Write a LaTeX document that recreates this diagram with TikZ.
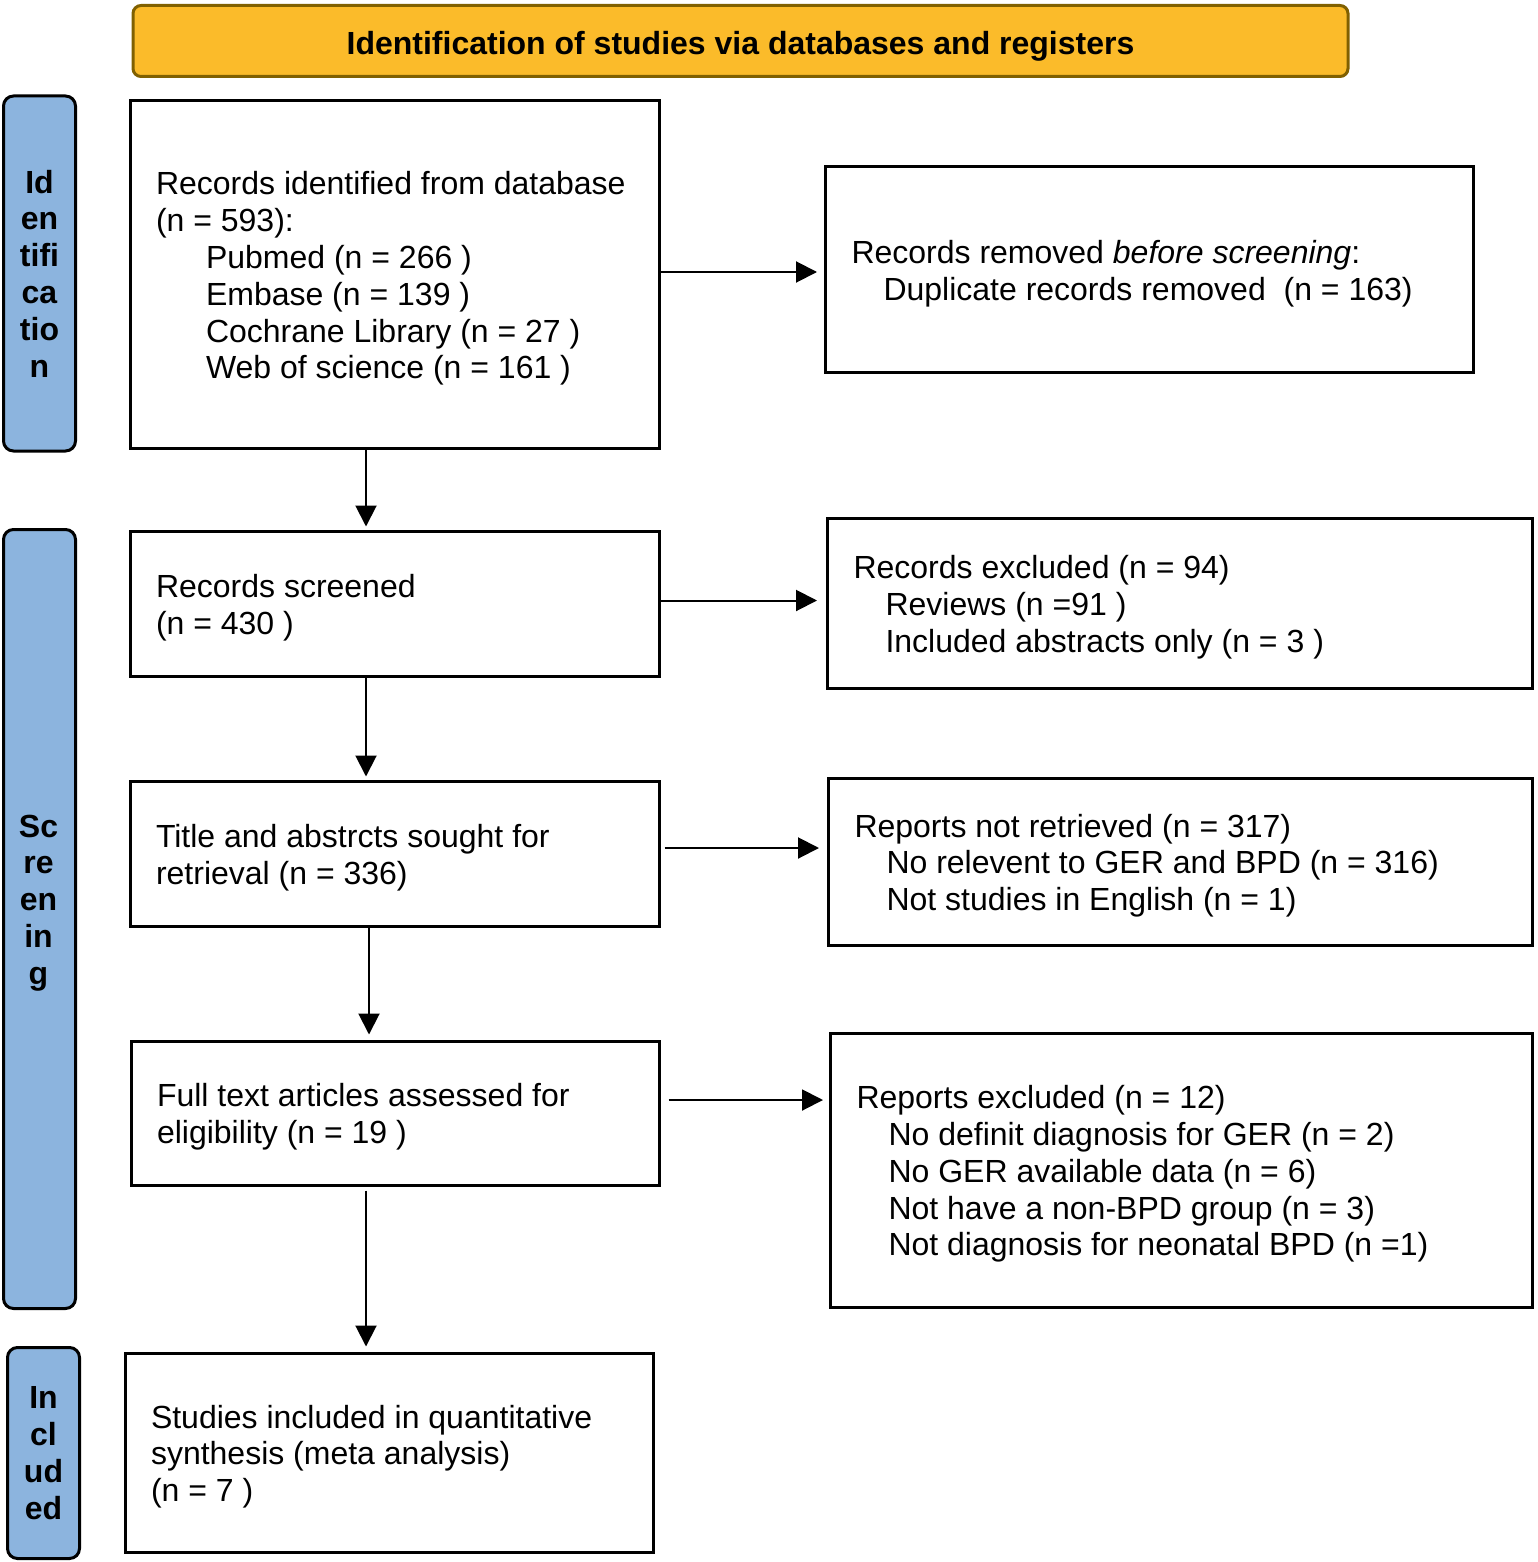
\documentclass[tikz,border=0pt]{standalone}
\usepackage{fontspec}
\setmainfont{Liberation Sans}
\usetikzlibrary{arrows.meta,calc}
\definecolor{titleyellow}{RGB}{251,187,42}
\definecolor{titlebrown}{RGB}{128,96,0}
\definecolor{sideblue}{RGB}{140,180,222}
\newcommand\mytopstrut{\rule{0pt}{15.7pt}}
\begin{document}
\begin{tikzpicture}[x=0.5pt,y=-0.5pt,
  every node/.style={font=\fontsize{16pt}{18.4pt}\selectfont},
  box/.style={draw=black,line width=1.5pt,fill=white,inner xsep=13pt,inner ysep=0pt,align=flush left,anchor=center},
  sidebox/.style={draw=black,line width=1.5pt,fill=sideblue,rounded corners=5pt,minimum width=36pt,inner sep=0pt},
  sidelabel/.style={font=\fontsize{16pt}{18.4pt}\selectfont\bfseries,align=center,inner sep=0pt},
  arr/.style={line width=1pt,-{Triangle[length=10.5pt,width=10.5pt]}}]
\useasboundingbox (0,0) rectangle (1537,1562);

% title
\node[draw=titlebrown,fill=titleyellow,line width=1.5pt,rounded corners=4pt,
      minimum width=607.5pt,minimum height=35.5pt,inner sep=0pt,text height=13.5pt,text depth=0pt,
      font=\fontsize{16pt}{18.4pt}\selectfont\bfseries] (T) at (740.5,41)
      {Identification of studies via databases and registers};

% side bars
\node[sidebox,minimum height=177.5pt,sidelabel] (S1) at (39.5,273.5) {Id\\en\\tifi\\ca\\tio\\n};
\node[sidebox,minimum height=389.5pt] (S2) at (39.5,919) {};
\node[sidelabel] (S2t) at (38.5,903) {Sc\\re\\en\\in\\g};
\node[sidebox,minimum height=105.5pt,sidelabel] (S3) at (43.5,1453) {In\\cl\\ud\\ed};

% main boxes
\node[box,text width=238.5pt,minimum height=173.5pt] (A) at (394.5,274.5)
  {\mytopstrut\mbox{Records identified from database}\\(n = 593):\\
   \hspace*{25pt}Pubmed (n = 266 )\\
   \hspace*{25pt}Embase (n = 139 )\\
   \hspace*{25pt}Cochrane Library (n = 27 )\\
   \hspace*{25pt}Web of science (n = 161 )};
\node[box,text width=298pt,minimum height=102.5pt] (B) at (1149.5,269.5)
  {\mytopstrut Records removed \textit{before screening}:\\
   \hspace*{16pt}\mbox{Duplicate records removed\ \ (n = 163)}};
\node[box,text width=238.5pt,minimum height=72.5pt] (C) at (394.5,603.5)
  {\mytopstrut Records screened\\(n = 430 )};
\node[box,text width=326.5pt,minimum height=85pt] (D) at (1180,603)
  {\mytopstrut Records excluded (n = 94)\\
   \hspace*{16pt}Reviews (n =91 )\\
   \hspace*{16pt}Included abstracts only (n = 3 )};
\node[box,text width=238.5pt,minimum height=72.5pt] (E) at (394.5,853.5)
  {\mytopstrut Title and abstrcts sought for\\retrieval (n = 336)};
\node[box,text width=326pt,minimum height=83.5pt] (F) at (1180.5,861.5)
  {\mytopstrut Reports not retrieved (n = 317)\\
   \hspace*{16pt}No relevent to GER and BPD (n = 316)\\
   \hspace*{16pt}Not studies in English (n = 1)};
\node[box,text width=238pt,minimum height=72pt] (G) at (395,1113)
  {\mytopstrut Full text articles assessed for\\eligibility (n = 19 )};
\node[box,text width=325pt,minimum height=137pt] (H) at (1181.5,1170)
  {\mytopstrut Reports excluded (n = 12)\\
   \hspace*{16pt}No definit diagnosis for GER (n = 2)\\
   \hspace*{16pt}No GER available data (n = 6)\\
   \hspace*{16pt}Not have a non-BPD group (n = 3)\\
   \hspace*{16pt}Not diagnosis for neonatal BPD (n =1)};
\node[box,text width=238pt,minimum height=99.5pt] (I) at (389,1452.5)
  {\mytopstrut Studies included in quantitative\\synthesis (meta analysis)\\(n = 7 )};

% connectors
\coordinate (ax) at (366,0);
\coordinate (bx) at (369,0);
\draw[arr,shorten >=3.5pt] ([yshift=1.25pt]A.east) -- ([yshift=1.25pt]A.east -| B.west);
\draw[arr,shorten >=4.5pt] ([yshift=1.5pt]C.east) -- ([yshift=1.5pt]C.east -| D.west);
\draw[arr,shorten <=2pt,shorten >=4pt] ([yshift=2.75pt]E.east) -- ([yshift=2.75pt]E.east -| F.west);
\draw[arr,shorten <=4pt,shorten >=3pt] ([yshift=6.5pt]G.east) -- ([yshift=6.5pt]G.east -| H.west);
\draw[arr,shorten >=1.5pt] (A.south -| ax) -- (C.north -| ax);
\draw[arr,shorten >=1.5pt] (C.south -| ax) -- (E.north -| ax);
\draw[arr,shorten >=2.5pt] (E.south -| bx) -- (G.north -| bx);
\draw[arr,shorten <=2pt,shorten >=2.5pt] (G.south -| ax) -- (I.north -| ax);
\end{tikzpicture}
\end{document}
